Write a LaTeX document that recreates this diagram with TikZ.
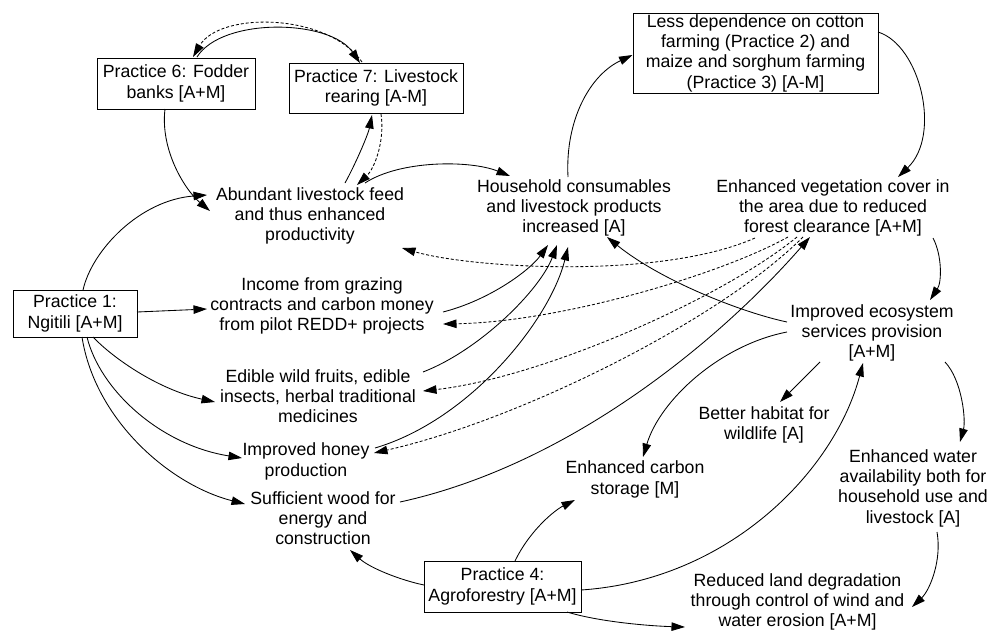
\documentclass[tikz,border=0pt]{standalone}
\usepackage{fontspec}
\setmainfont{Liberation Sans}
\usetikzlibrary{arrows.meta}
\newcommand\diafont{\fontsize{17.7pt}{20.3pt}\selectfont}
\tikzset{
  box/.style={draw, line width=1pt, inner sep=0pt, align=center, font=\diafont},
  txt/.style={inner sep=0pt, align=center, font=\diafont},
  arr/.style={line width=0.85pt, -{Triangle[length=13.5pt,width=8.5pt]}},
  darr/.style={arr, dash pattern=on 3pt off 2pt},
}
\newcommand\rel[3]{([shift={(#2,#3)}]#1.center)}
\begin{document}
\begin{tikzpicture}[x=1pt,y=-1pt]
\fill[white] (0,0) rectangle (1002,630);
\useasboundingbox (0,0) rectangle (1002,630);

% boxes
\node[box, minimum width=158pt, minimum height=51pt] (p6) at (176,83.5) {Practice 6: Fodder\\banks [A+M]};
\node[box, minimum width=174pt, minimum height=50pt] (p7) at (376,88) {Practice 7: Livestock\\rearing [A-M]};
\node[box, minimum width=245pt, minimum height=80pt] (less) at (755.5,53) {Less dependence on cotton\\farming (Practice 2) and\\maize and sorghum farming\\(Practice 3) [A-M]};
\node[box, minimum width=124pt, minimum height=47pt] (p1) at (75,313.5) {Practice 1:\\Ngitili [A+M]};
\node[box, minimum width=157pt, minimum height=51pt] (p4) at (502.5,586.5) {Practice 4:\\Agroforestry [A+M]};

% text nodes
\node[txt] (abund) at (310,216) {Abundant livestock feed\\and thus enhanced\\productivity};
\node[txt] (house) at (574,208) {Household consumables\\and livestock products\\increased [A]};
\node[txt] (veg) at (833,208) {Enhanced vegetation cover in\\the area due to reduced\\forest clearance [A+M]};
\node[txt] (income) at (322,306) {Income from grazing\\contracts and carbon money\\from pilot REDD+ projects};
\node[txt] (eco) at (872,333) {Improved ecosystem\\services provision\\{}[A+M]};
\node[txt] (edible) at (318,396) {Edible wild fruits, edible\\insects, herbal traditional\\medicines};
\node[txt] (habitat) at (764,425) {Better habitat for\\wildlife [A]};
\node[txt] (honey) at (306,461.5) {Improved honey\\production};
\node[txt] (carbon) at (635,479.5) {Enhanced carbon\\storage [M]};
\node[txt] (wood) at (323,518) {Sufficient wood for\\energy and\\construction};
\node[txt] (water) at (913,488) {Enhanced water\\availability both for\\household use and\\livestock [A]};
\node[txt] (reduced) at (797.5,602) {Reduced land degradation\\through control of wind and\\water erosion [A+M]};

% P6 <-> P7
\draw[arr] \rel{p6}{21}{-26.5} .. controls (222,17) and (330,19) .. \rel{p7}{-16}{-25};
\draw[darr] \rel{p7}{-14}{-26} .. controls (328,13) and (220,11) .. \rel{p6}{17}{-26.5};
% P6 -> abundant
\draw[arr] \rel{p6}{-11}{25.5} .. controls (160,150) and (185,190) .. \rel{abund}{-100}{-5};
% P1 -> abundant
\draw[arr] \rel{p1}{8}{-23.5} .. controls (92,250) and (140,200) .. \rel{abund}{-103}{-21};
% abundant <-> P7
\draw[arr] \rel{abund}{35}{-33} .. controls (355,165) and (368,135) .. \rel{p7}{-4}{27};
\draw[darr] \rel{p7}{5}{26} .. controls (385,140) and (375,168) .. \rel{abund}{47}{-31};
% abundant -> household
\draw[arr] \rel{abund}{55}{-33} .. controls (400,160) and (470,160) .. \rel{house}{-64}{-32};
% household -> less dependence
\draw[arr] \rel{house}{-6}{-31} .. controls (565,120) and (590,75) .. \rel{less}{-123}{2};
% less dependence -> vegetation
\draw[arr] \rel{less}{122.5}{-21} .. controls (920,45) and (942,135) .. \rel{veg}{65}{-31};
% vegetation -> ecosystem
\draw[arr] \rel{veg}{100}{30} .. controls (942,255) and (942,282) .. \rel{eco}{58}{-33};
% ecosystem -> household
\draw[arr] \rel{eco}{-85}{-11} .. controls (740,312) and (660,280) .. \rel{house}{33}{29};
% vegetation -> (dashed) abundant, income, edible, honey
\draw[darr] \rel{veg}{-78}{30} .. controls (660,280) and (470,268) .. \rel{abund}{92}{32};
\draw[darr] \rel{veg}{-45}{29} .. controls (720,275) and (560,322) .. \rel{income}{121}{18};
\draw[darr] \rel{veg}{-36}{29} .. controls (720,300) and (540,378) .. \rel{edible}{105}{-5};
\draw[darr] \rel{veg}{-30}{29} .. controls (720,320) and (520,420) .. \rel{honey}{68}{-8.5};
% wood -> vegetation
\draw[arr] \rel{wood}{77}{-16} .. controls (570,465) and (720,340) .. \rel{veg}{-23}{29};
% agroforestry -> ecosystem
\draw[arr] \rel{p4}{78.5}{3.5} .. controls (730,580) and (835,470) .. \rel{eco}{-9}{30};
% ecosystem -> carbon, habitat, water
\draw[arr] \rel{eco}{-85}{-1} .. controls (720,345) and (660,400) .. \rel{carbon}{8}{-22.5};
\draw[arr] \rel{eco}{-52}{29} -- \rel{habitat}{16}{-23};
\draw[arr] \rel{eco}{73}{29} .. controls (962,380) and (966,420) .. \rel{water}{47}{-46};
% water -> reduced
\draw[arr] \rel{water}{24}{44} .. controls (942,560) and (930,590) .. \rel{reduced}{114.5}{5};
% agroforestry -> carbon, reduced, wood
\draw[arr] \rel{p4}{12.5}{-25.5} .. controls (530,530) and (555,510) .. \rel{carbon}{-60}{20.5};
\draw[arr] \rel{p4}{64.5}{25.5} .. controls (600,622) and (650,626) .. \rel{reduced}{-112.5}{25};
\draw[arr] \rel{p4}{-78.5}{-1.5} .. controls (400,580) and (370,568) .. \rel{wood}{27}{32};
% P1 -> income, edible, honey, wood
\draw[arr] \rel{p1}{62}{-1.5} -- \rel{income}{-115}{3};
\draw[arr] \rel{p1}{18}{23.5} .. controls (115,360) and (160,390) .. \rel{edible}{-103}{6};
\draw[arr] \rel{p1}{12}{23.5} .. controls (100,390) and (160,445) .. \rel{honey}{-64}{-3.5};
\draw[arr] \rel{p1}{7}{23.5} .. controls (95,420) and (170,485) .. \rel{wood}{-78}{-14};
% income, edible, honey -> household
\draw[arr] \rel{income}{121}{6} .. controls (490,300) and (530,270) .. \rel{house}{-26}{37};
\draw[arr] \rel{edible}{105}{-24} .. controls (480,350) and (540,290) .. \rel{house}{-17}{37};
\draw[arr] \rel{honey}{69}{-13.5} .. controls (470,420) and (550,320) .. \rel{house}{-6}{39};
\end{tikzpicture}
\end{document}
